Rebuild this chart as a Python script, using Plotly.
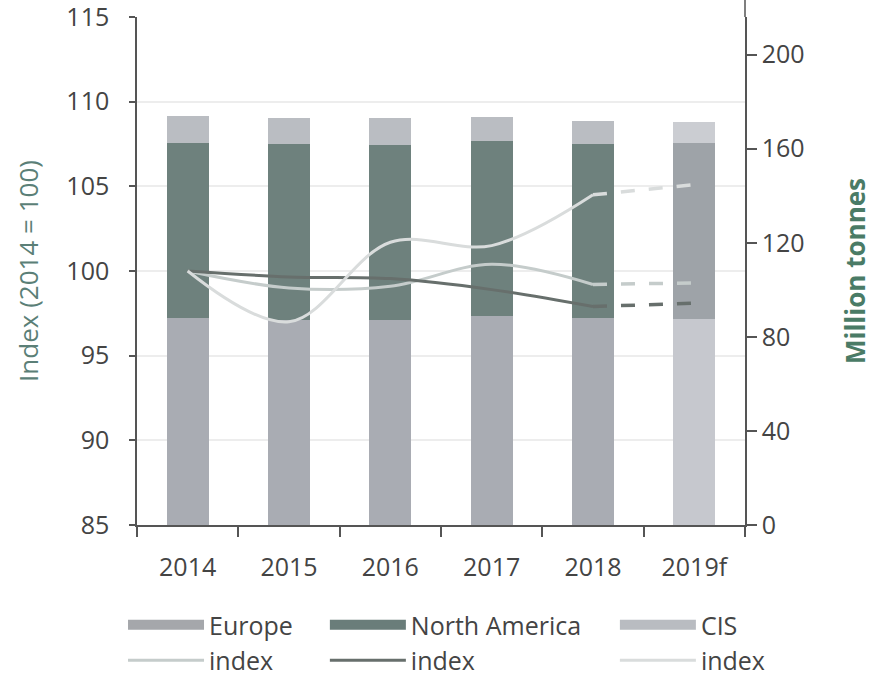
import plotly.graph_objects as go

years = ["2014", "2015", "2016", "2017", "2018", "2019f"]

# Production, million tonnes (right axis)
europe_mt = [88.0, 87.0, 87.3, 89.0, 88.0, 87.7]
north_america_mt = [74.5, 75.0, 74.2, 74.2, 74.2, 74.6]
cis_mt = [11.5, 11.0, 11.4, 10.2, 9.7, 8.9]

# Index (2014 = 100), left axis
europe_index = [100.0, 99.0, 99.1, 100.4, 99.2, 99.3]
north_america_index = [100.0, 99.65, 99.55, 98.9, 97.9, 98.1]
cis_index = [100.0, 97.0, 101.7, 101.5, 104.5, 105.1]

left_ticks = [85, 90, 95, 100, 105, 110, 115]
right_ticks = [0, 40, 80, 120, 160, 200]

FONT = "Open Sans"
FS = 25
TXT = "#444444"
AX = "#555555"

n_actual = len(years) - 1
eu_col = ["#a9acb3"] * n_actual + ["#c6c8ce"]
na_col = ["#6e817d"] * n_actual + ["#9ea3a8"]
cis_col = ["#babdc2"] * n_actual + ["#cbcdd2"]

fig = go.Figure()

bar_specs = [
    ("Europe", europe_mt, eu_col, "#a5a7ab", "legend"),
    ("North America", north_america_mt, na_col, "#6a7d7a", "legend2"),
    ("CIS", cis_mt, cis_col, "#b9bcc1", "legend3"),
]
for name, vals, cols, sw, lg in bar_specs:
    fig.add_trace(go.Bar(x=years, y=vals, name=name, marker=dict(color=cols, line=dict(width=0)),
                         yaxis="y", showlegend=False))
    # legend swatch (wide rectangle like the original key)
    fig.add_trace(go.Scatter(x=[None], y=[None], mode="lines", name=name,
                             line=dict(color=sw, width=12), yaxis="y2",
                             legend=lg, legendrank=1, hoverinfo="skip"))

line_specs = [
    (europe_index, "#c5cccb", "legend"),
    (north_america_index, "#676f6c", "legend2"),
    (cis_index, "#d9dcdc", "legend3"),
]
for vals, col, lg in line_specs:
    fig.add_trace(go.Scatter(x=years[:n_actual], y=vals[:n_actual], mode="lines", name="index",
                             line=dict(color=col, width=3, shape="spline", smoothing=1.0),
                             yaxis="y2", legend=lg, legendrank=2))
    fig.add_trace(go.Scatter(x=years[n_actual - 1:], y=vals[n_actual - 1:], mode="lines", name="index",
                             line=dict(color=col, width=3.5, dash="14px,14px"),
                             yaxis="y2", showlegend=False))

legend_common = dict(orientation="v", font=dict(family=FONT, size=FS, color=TXT),
                     bgcolor="rgba(0,0,0,0)", yref="container", yanchor="top", y=0.112,
                     xref="paper", itemwidth=76, traceorder="normal", tracegroupgap=0)

fig.update_layout(
    width=873, height=678,
    margin=dict(l=137, r=128, t=17, b=153, autoexpand=False),
    paper_bgcolor="white", plot_bgcolor="white",
    barmode="stack", bargap=0.585,
    font=dict(family=FONT, size=FS, color=TXT),
    xaxis=dict(type="category", categoryorder="array", categoryarray=years,
               showline=True, linecolor=AX, linewidth=1.5,
               ticks="outside", tickson="boundaries", ticklen=10, tickcolor=AX, tickwidth=1.5,
               ticklabelstandoff=19,
               tickfont=dict(family=FONT, size=FS, color=TXT), showgrid=False),
    yaxis=dict(side="right", range=[0, 216], tickvals=right_ticks,
               showline=True, linecolor=AX, linewidth=1.5,
               ticks="outside", ticklen=10, tickcolor=AX, tickwidth=1.5,
               tickfont=dict(family=FONT, size=FS, color=TXT), showgrid=False, zeroline=False,
               title=dict(text="<b>Million tonnes</b>", font=dict(family=FONT, size=26, color="#4a7b66"),
                          standoff=44)),
    yaxis2=dict(overlaying="y", side="left", range=[85, 115], tickvals=left_ticks,
                showline=True, linecolor=AX, linewidth=1.5,
                ticks="outside", ticklen=6, tickcolor=AX, tickwidth=1.5,
                ticklabelstandoff=15, ticklabeloverflow="allow",
                tickfont=dict(family=FONT, size=FS, color=TXT),
                showgrid=True, gridcolor="#ededed", gridwidth=1.5, zeroline=False,
                title=dict(text="Index (2014 = 100)", font=dict(family=FONT, size=26, color="#5b7f77"),
                           standoff=20)),
    legend=dict(x=-0.023, **legend_common),
    legend2=dict(x=0.309, **legend_common),
    legend3=dict(x=0.786, **legend_common),
    shapes=[dict(type="line", xref="paper", yref="paper", x0=1, x1=1, y0=1, y1=1.034,
                 line=dict(color=AX, width=1.5))],
)

fig.write_html("out.html", config={"displayModeBar": False},
               post_script="document.body.style.margin='0';document.body.style.overflow='hidden';")
